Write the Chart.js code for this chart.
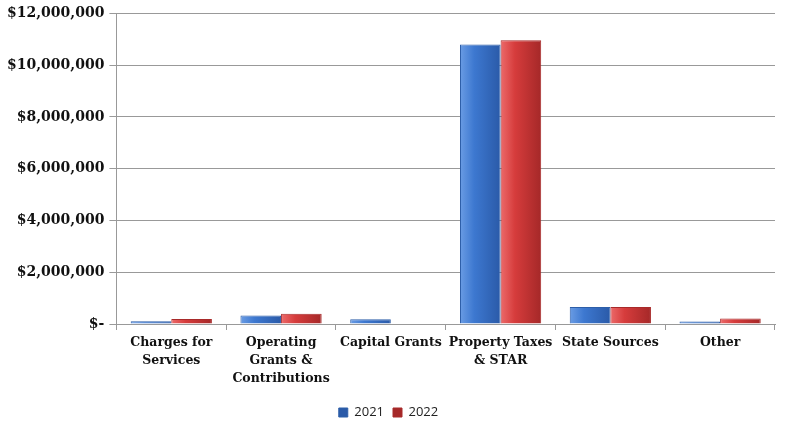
<!DOCTYPE html>
<html>
<head>
<meta charset="utf-8">
<script src="https://cdn.jsdelivr.net/npm/chart.js@4"></script>
<style>
  html, body { margin: 0; padding: 0; background: #fff; }
  #wrap { width: 793px; height: 426px; position: relative; }
</style>
</head>
<body>
<div id="wrap"><canvas id="revChart"></canvas></div>
<script>
// Revenue categories and values
const categories = [
  ['Charges for', 'Services'],
  ['Operating', 'Grants &', 'Contributions'],
  'Capital Grants',
  ['Property Taxes', '& STAR'],
  'State Sources',
  'Other'
];
const years = ['2021', '2022'];
const values2021 = [110000, 330000, 180000, 10800000, 660000, 100000];
const values2022 = [190000, 400000, 0, 10960000, 660000, 210000];
const yTicks = [0, 2000000, 4000000, 6000000, 8000000, 10000000, 12000000];

const CAT_PCT = 0.74;

// shaded fill like the original's bevelled bars, worked out from the x scale
function barFill(light, mid, dark, side) {
  return function(ctx) {
    const chart = ctx.chart;
    const xs = chart.scales && chart.scales.x;
    if (!xs || ctx.dataIndex == null || !isFinite(xs.getPixelForValue(ctx.dataIndex))) return mid;
    const centre = xs.getPixelForValue(ctx.dataIndex);
    const w = (xs.width / categories.length) * CAT_PCT / 2;
    const x0 = side === 0 ? centre - w : centre;
    const g = chart.ctx.createLinearGradient(x0, 0, x0 + w, 0);
    g.addColorStop(0, light);
    g.addColorStop(0.35, mid);
    g.addColorStop(1, dark);
    return g;
  };
}

const serif = "'DejaVu Serif', 'Liberation Serif', serif";

new Chart(document.getElementById('revChart'), {
  type: 'bar',
  data: {
    labels: categories,
    datasets: [
      {
        label: years[0],
        data: values2021,
        backgroundColor: barFill('#6a9ce4', '#3d78d0', '#2a5aa8', 0),
        borderColor: '#2d5ea8',
        borderWidth: 1
      },
      {
        label: years[1],
        data: values2022,
        backgroundColor: barFill('#ec6a6a', '#d63c3c', '#a52828', 1),
        borderColor: '#a82a2a',
        borderWidth: 1
      }
    ]
  },
  options: {
    responsive: true,
    maintainAspectRatio: false,
    animation: false,
    layout: { padding: { top: 8, right: 18, left: 2, bottom: -3 } },
    datasets: {
      bar: { categoryPercentage: CAT_PCT, barPercentage: 1.0 }
    },
    plugins: {
      tooltip: { enabled: false },
      legend: {
        position: 'bottom',
        labels: {
          boxWidth: 9,
          boxHeight: 9,
          padding: 9,
          color: '#222',
          font: { family: "'Open Sans', 'Liberation Sans', sans-serif", size: 13 }
        }
      }
    },
    scales: {
      x: {
        afterFit: function(axis) {
          axis.height = 73;
        },
        grid: {
          offset: true,
          drawOnChartArea: false,
          drawTicks: true,
          tickLength: 6,
          color: '#999'
        },
        border: { color: '#999' },
        ticks: {
          color: '#111',
          maxRotation: 0,
          autoSkip: false,
          padding: 4,
          font: { family: serif, size: 12.5, weight: 'bold', lineHeight: 1.42 }
        }
      },
      y: {
        min: 0,
        max: 12000000,
        afterBuildTicks: function(axis) {
          axis.ticks = yTicks.map(v => ({ value: v }));
        },
        grid: {
          color: '#999',
          tickLength: 7
        },
        border: { color: '#999' },
        ticks: {
          color: '#111',
          padding: 5,
          font: { family: serif, size: 14, weight: 'bold' },
          callback: function(v) {
            return v === 0 ? '$-' : '$' + v.toLocaleString('en-US');
          }
        }
      }
    }
  }
});
</script>
</body>
</html>
